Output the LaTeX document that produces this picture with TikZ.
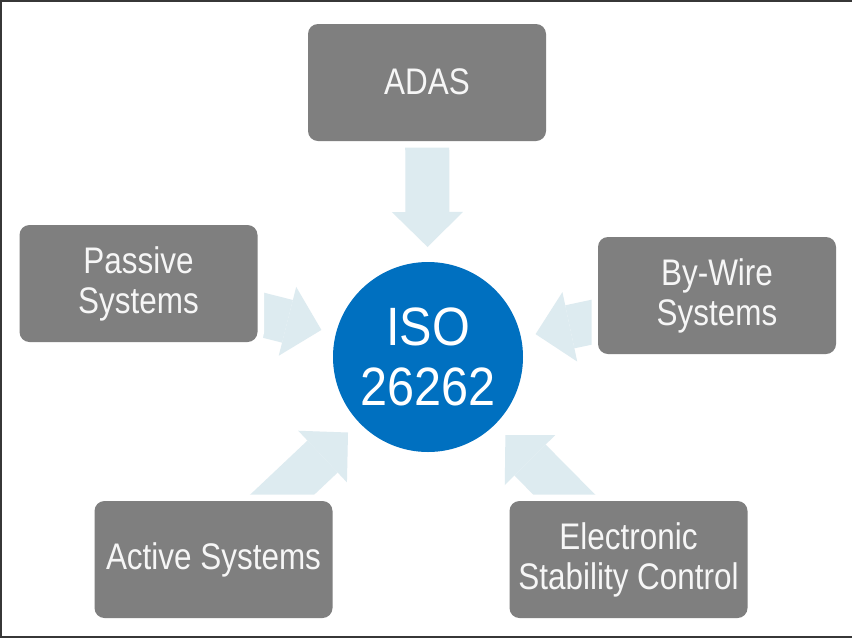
\documentclass[tikz,border=0pt]{standalone}
\usepackage{fontspec}
\setmainfont{Liberation Sans}
\newfontfamily\narrowfont[FakeStretch=0.85]{Liberation Sans}
\newfontfamily\isofont[FakeStretch=0.9]{Liberation Sans}
\usetikzlibrary{arrows.meta,backgrounds}
\definecolor{boxgray}{RGB}{127,127,127}
\definecolor{isoblue}{RGB}{0,112,192}
\definecolor{arrowblue}{RGB}{221,235,240}
\definecolor{framecol}{RGB}{55,55,55}
\definecolor{txtwhite}{RGB}{246,246,246}
\begin{document}
\begin{tikzpicture}[x=1pt,y=-1pt,
  sysbox/.style={rectangle, rounded corners=10pt, fill=boxgray,
    minimum width=238pt, minimum height=117pt, inner sep=0pt,
    align=center, text=txtwhite,
    font=\narrowfont\fontsize{37}{40}\selectfont,
    preaction={draw=white, line width=13pt}},
  isocircle/.style={circle, fill=isoblue, minimum size=190pt, inner sep=0pt,
    align=center, text=white, font=\isofont\fontsize{54}{60}\selectfont},
  bigarrow/.style={draw=arrowblue, line width=44pt,
    -{Triangle[length=35pt,width=71pt,line width=0pt]},
    shorten >=110pt}
]
\useasboundingbox (0,0) rectangle (852,638);

\node[sysbox] (adas) at (427,82.5) {\raisebox{2pt}{ADAS}};
\node[sysbox] (passive) at (138.5,283.5) {Passive\\Systems};
\node[sysbox] (bywire) at (717,295.5) {By-Wire\\Systems};
\node[sysbox] (active) at (213.5,559.5) {Active Systems};
\node[sysbox] (esc) at (628.5,559.5) {Electronic\\Stability Control};
\node[isocircle] (iso) at (428,357) {ISO\\26262};

\begin{scope}[on background layer]
  \fill[white] (0,0) rectangle (852,638);
  \draw[bigarrow] (adas.center) -- (iso.center);
  \draw[bigarrow] (passive.center) -- (iso.center);
  \draw[bigarrow] (bywire.center) -- (iso.center);
  \draw[bigarrow] (active.center) -- (iso.center);
  \draw[bigarrow] (esc.center) -- (iso.center);
\end{scope}

\fill[framecol] (0,0) rectangle (852,2);
\fill[framecol] (0,0) rectangle (1.5,638);
\fill[framecol] (0,636) rectangle (852,638);
\end{tikzpicture}
\end{document}
